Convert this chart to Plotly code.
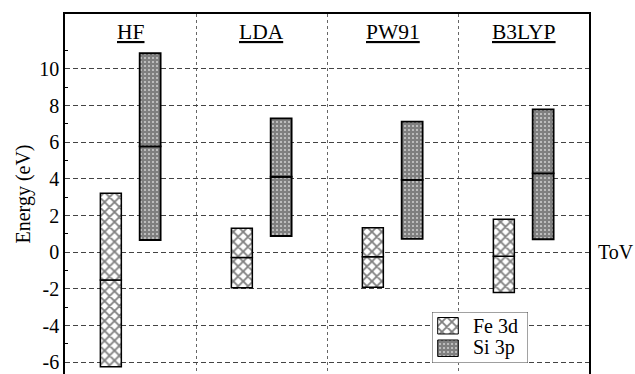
import plotly.graph_objects as go

# Energy windows (eV) per method: bottom, split level, top
methods = ["HF", "LDA", "PW91", "B3LYP"]
fe_low = [-6.24, -1.93, -1.91, -2.20]
fe_mid = [-1.51, -0.29, -0.24, -0.22]
fe_high = [3.22, 1.31, 1.34, 1.80]
si_low = [0.67, 0.89, 0.73, 0.71]
si_mid = [5.78, 4.12, 3.95, 4.31]
si_high = [10.86, 7.31, 7.13, 7.80]
ytick_vals = [-6, -4, -2, 0, 2, 4, 6, 8, 10]
ytick_text = ["-6", "-4", "-2", "0", "2", "4", "6", "8", "10"]
series_names = ["Fe 3d", "Si 3p"]

FONT = "Liberation Serif"
BAR_W = 0.16
FE_OFF, SI_OFF = 0.35, 0.65

fe_x = [i + FE_OFF for i in range(len(methods))]
si_x = [i + SI_OFF for i in range(len(methods))]

fe_pattern = dict(shape="x", size=7, solidity=0.45, fgcolor="black", bgcolor="white", fillmode="overlay")
si_pattern = dict(shape="+", size=4, solidity=0.9, fgcolor="black", bgcolor="white", fillmode="overlay")

fig = go.Figure()


def add_split_bars(xs, lo, mid, hi, pattern, name, lw):
    lower = [m - l for l, m in zip(lo, mid)]
    upper = [h - m for m, h in zip(mid, hi)]
    fig.add_trace(go.Bar(
        x=xs, y=lower, base=lo, width=BAR_W, name=name,
        marker=dict(color="white", pattern=pattern, line=dict(color="black", width=lw)),
        showlegend=False,
    ))
    fig.add_trace(go.Bar(
        x=xs, y=upper, base=mid, width=BAR_W, name=name,
        marker=dict(color="white", pattern=pattern, line=dict(color="black", width=lw)),
        showlegend=False,
    ))


add_split_bars(fe_x, fe_low, fe_mid, fe_high, fe_pattern, series_names[0], 1.5)
add_split_bars(si_x, si_low, si_mid, si_high, si_pattern, series_names[1], 1.8)

# Legend drawn on a small inset axis so the swatches can be full size
for j, (name, pat) in enumerate(zip(series_names, [fe_pattern, si_pattern])):
    fig.add_trace(go.Bar(
        x=[16], y=[16.5], base=[29 - j * 22.5], width=20.6, xaxis="x2", yaxis="y2",
        marker=dict(color="white", pattern=pat, line=dict(color="black", width=1)),
        showlegend=False, hoverinfo="skip",
    ))
    fig.add_annotation(x=39, y=37 - j * 21.5, xref="x2", yref="y2", text=name, xanchor="left",
                       showarrow=False, font=dict(family=FONT, size=20, color="black"))

fig.add_shape(type="rect", xref="x2", yref="y2", x0=0, x1=96, y0=0, y1=51, layer="below",
              fillcolor="white", line=dict(color="#444", width=1))

# Method names above each group
for i, m in enumerate(methods):
    fig.add_annotation(x=i + 0.5, y=12, xref="x", yref="y", text=f"<u>{m}</u>",
                       showarrow=False, font=dict(family=FONT, size=21.5, color="black"))

fig.add_annotation(x=1.013, y=0, xref="paper", yref="y", text="ToV", xanchor="left",
                   showarrow=False, font=dict(family=FONT, size=20, color="black"))

fig.update_layout(
    width=635, height=374,
    margin=dict(l=65, r=46, t=14, b=0),
    paper_bgcolor="white", plot_bgcolor="white",
    barmode="overlay",
    font=dict(family=FONT, size=20, color="black"),
    showlegend=False,
    xaxis=dict(range=[0, 4], side="top", showline=True, linecolor="black", linewidth=1.5,
               tickvals=[1, 2, 3], showticklabels=False, ticks="",
               showgrid=True, gridcolor="#666", gridwidth=1, griddash="dot", zeroline=False),
    yaxis=dict(range=[-6.64, 13.0], showline=True, linecolor="black", linewidth=1.5, mirror=True,
               tickvals=ytick_vals, ticktext=ytick_text, ticks="",
               showgrid=True, gridcolor="#444", gridwidth=1, griddash="5px,3px", zeroline=False,
               minor=dict(tickvals=[-5, -3, -1, 1, 3, 5, 7, 9, 11], ticks="inside", ticklen=3,
                          tickcolor="black", showgrid=False),
               title=dict(text="Energy (eV)", font=dict(family=FONT, size=20), standoff=3),
               tickfont=dict(family=FONT, size=20)),
    xaxis2=dict(domain=[0.7004, 0.8836], range=[0, 96], anchor="y2", visible=False, fixedrange=True),
    yaxis2=dict(domain=[0.0306, 0.1722], range=[0, 51], anchor="x2", visible=False, fixedrange=True),
)

fig.write_html("out.html")
